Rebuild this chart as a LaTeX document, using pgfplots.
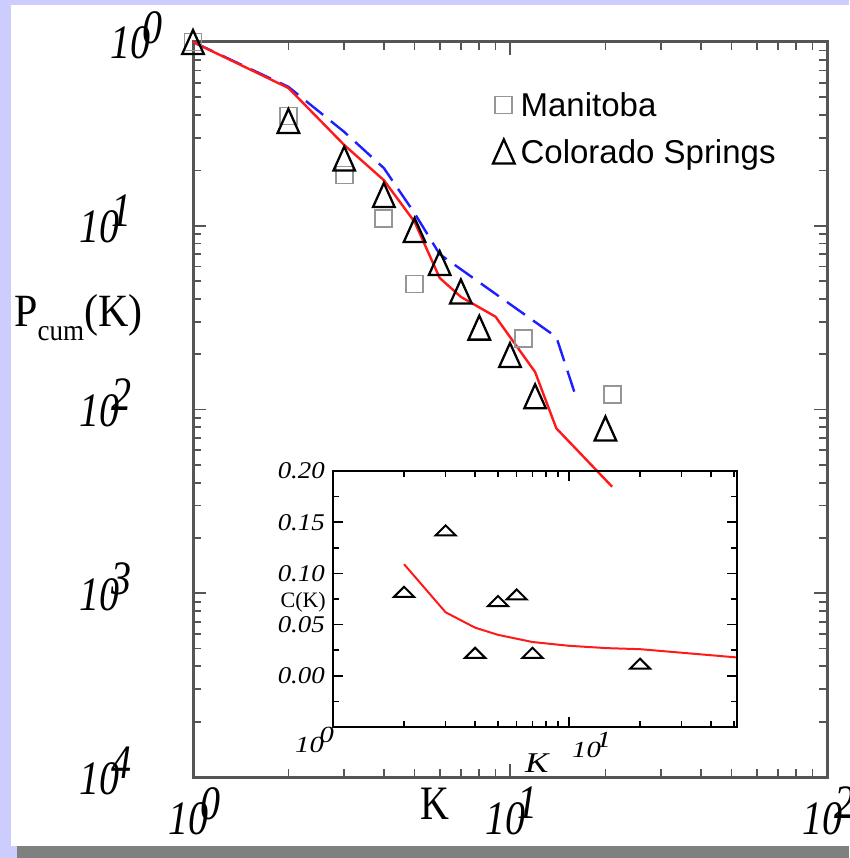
\documentclass[border=0pt]{standalone}
\usepackage{pgfplots}
\pgfplotsset{compat=1.18}
\usepackage{fontspec}
\setmainfont{Liberation Serif}
\newfontfamily\legendfont{Liberation Sans}

\definecolor{lav}{RGB}{204,204,255}
\definecolor{barg}{RGB}{128,128,128}
\definecolor{fitred}{RGB}{255,25,25}
\definecolor{fitblue}{RGB}{30,30,255}
\definecolor{axgray}{RGB}{85,85,85}
\definecolor{sqgray}{RGB}{150,150,150}

% upright triangle centred on its bounding box
\pgfdeclareplotmark{btri}{%
  \pgfpathmoveto{\pgfpoint{0pt}{\pgfplotmarksize}}%
  \pgfpathlineto{\pgfpoint{-0.9\pgfplotmarksize}{-\pgfplotmarksize}}%
  \pgfpathlineto{\pgfpoint{0.9\pgfplotmarksize}{-\pgfplotmarksize}}%
  \pgfpathclose
  \pgfusepathqstroke}
% flat triangle for the inset
\pgfdeclareplotmark{ftri}{%
  \pgfpathmoveto{\pgfpoint{0pt}{0.5\pgfplotmarksize}}%
  \pgfpathlineto{\pgfpoint{-\pgfplotmarksize}{-0.5\pgfplotmarksize}}%
  \pgfpathlineto{\pgfpoint{\pgfplotmarksize}{-0.5\pgfplotmarksize}}%
  \pgfpathclose
  \pgfusepathqstroke}

\newcommand{\bigten}[1]{\scalebox{1}[1.2]{\fontsize{40}{40}\selectfont\itshape 10\kern-0.2em\raisebox{0.33em}{#1}}}
\newcommand{\smallten}[1]{\scalebox{1.3}[1.05]{\fontsize{22}{22}\selectfont\itshape 10\kern-0.15em\raisebox{0.45em}{#1}}}
\newcommand{\insetnum}[1]{\scalebox{1.12}[1]{\fontsize{24}{24}\selectfont\itshape #1}}

\begin{document}
\begin{tikzpicture}
\useasboundingbox (0pt,0pt) rectangle (849pt,858pt);
\clip (0pt,0pt) rectangle (849pt,858pt);
\fill[lav] (0pt,0pt) rectangle (849pt,858pt);
\fill[white] (11pt,12pt) rectangle (849pt,853pt);
\fill[barg] (17pt,0pt) rectangle (849pt,12pt);

% ---------------- main panel ----------------
\begin{axis}[
  at={(193pt,81pt)}, anchor=south west,
  scale only axis, width=634pt, height=735pt,
  xmode=log, ymode=log,
  xmin=1, xmax=100, ymin=1e-4, ymax=1,
  axis line style={axgray, line width=3pt},
  tick style={axgray, line width=1.8pt},
  major tick length=13pt, minor tick length=8pt,
  tick align=inside,
  xtick={1,10,100},
  minor xtick={2,3,4,5,6,7,8,9,20,30,40,50,60,70,80,90},
  xticklabels={\bigten{0},\bigten{1},\bigten{2}},
  xticklabel style={anchor=north west, xshift=-25pt, yshift=-10pt, inner sep=0pt},
  ytick={1e-4,1e-3,1e-2,1e-1,1},
  minor ytick={0.0002,0.0003,0.0004,0.0005,0.0006,0.0007,0.0008,0.0009,
               0.002,0.003,0.004,0.005,0.006,0.007,0.008,0.009,
               0.02,0.03,0.04,0.05,0.06,0.07,0.08,0.09,
               0.2,0.3,0.4,0.5,0.6,0.7,0.8,0.9},
  yticklabels={\bigten{4}\hspace*{31pt},\bigten{3}\hspace*{31pt},\bigten{2}\hspace*{31pt},\bigten{1}\hspace*{31pt},\bigten{0}},
  yticklabel style={anchor=base east, xshift=-30pt, yshift=-17pt, inner sep=0pt},
  clip=false,
  legend style={at={(rel axis cs:0.4732,0.9306)}, anchor=north west,
    draw=none, fill=none, inner sep=0pt, outer sep=0pt,
    nodes={inner sep=0pt, anchor=base west},
    row sep=21pt, column sep=6pt,
    font=\legendfont\fontsize{33}{33}\selectfont},
  legend image code/.code={\draw[#1] plot coordinates {(12pt,12pt)};},
]
% Manitoba
\addplot[only marks, mark=square, mark size=8.5pt, sqgray, mark options={line width=1.8pt}]
  coordinates {(1,1) (2,0.396) (3,0.189) (4,0.109) (5,0.0482) (11,0.0243) (21,0.0121)};
\addlegendentry{Manitoba}
% Colorado Springs
\addplot[only marks, mark=btri, mark size=12pt, black, mark options={line width=2.3pt}]
  coordinates {(1,1) (2,0.372) (3,0.232) (4,0.147) (5,0.0948) (6,0.0627) (7,0.0439)
               (8,0.0279) (10,0.0198) (12,0.0118) (20,0.00788)};
\addlegendentry{Colorado Springs}
% model curves
\addplot[fitblue, line width=2.4pt, dash pattern=on 22pt off 10pt, forget plot]
  coordinates {(1,1) (2,0.57) (3,0.324) (4,0.206) (5,0.117) (6,0.07) (14,0.0248) (16,0.0123)};
\addplot[fitred, line width=2.4pt, forget plot]
  coordinates {(1,1) (2,0.562) (3,0.275) (4,0.177) (5,0.105) (6,0.052) (7,0.041) (9,0.032)
               (12,0.016) (14,0.0079) (21,0.0038)};
\end{axis}

% ---------------- inset ----------------
\begin{axis}[
  at={(333pt,131pt)}, anchor=south west,
  scale only axis, width=404pt, height=256pt,
  xmode=log, xmin=1, xmax=51.5, ymin=-0.05, ymax=0.2,
  axis line style={black, line width=1.8pt},
  tick style={black, line width=1.5pt},
  major tick length=10pt, minor tick length=6pt,
  tick align=inside,
  xtick={1,10}, minor xtick={2,3,4,5,6,7,8,9,20,30,40,50},
  xticklabels={},
  ytick={0,0.05,0.1,0.15,0.2},
  minor ytick={-0.025,0.025,0.075,0.125,0.175},
  yticklabels={\insetnum{0.00},\insetnum{0.05},\insetnum{0.10},\insetnum{0.15},\insetnum{0.20}},
  yticklabel style={anchor=east, xshift=-8pt, inner sep=0pt},
  clip=false,
]
\addplot[only marks, mark=ftri, mark size=10pt, black, mark options={line width=2pt}]
  coordinates {(2,0.082) (3,0.142) (4,0.0225) (5,0.073) (6,0.0794) (7,0.0225) (20,0.0118)};
\addplot[fitred, line width=2pt]
  coordinates {(2,0.109) (3,0.062) (4,0.047) (5,0.040) (7,0.033) (10,0.0293) (14.5,0.027) (20,0.026) (51,0.018)};
\node[anchor=base west, inner sep=0pt, xshift=-38pt, yshift=-26pt] at (axis cs:1,-0.05) {\smallten{0}};
\node[anchor=base west, inner sep=0pt, xshift=3pt, yshift=-31pt] at (axis cs:10,-0.05) {\smallten{1}};
\end{axis}

% axis titles
\node[anchor=base west, inner sep=0pt] at (420pt,38pt)
  {\scalebox{1}[1.2]{\fontsize{40}{40}\selectfont K}};
\node[anchor=base west, inner sep=0pt] at (14pt,531pt)
  {\scalebox{1}[1.1]{\fontsize{42}{42}\selectfont P\raisebox{-12pt}{\fontsize{27}{27}\selectfont cum}(K)}};
\node[anchor=base east, inner sep=0pt] at (326pt,250pt)
  {\fontsize{22}{22}\selectfont C(K)};
\node[anchor=base west, inner sep=0pt] at (525pt,85pt)
  {\scalebox{1.35}[1.1]{\fontsize{26}{26}\selectfont\itshape K}};
\end{tikzpicture}
\end{document}
